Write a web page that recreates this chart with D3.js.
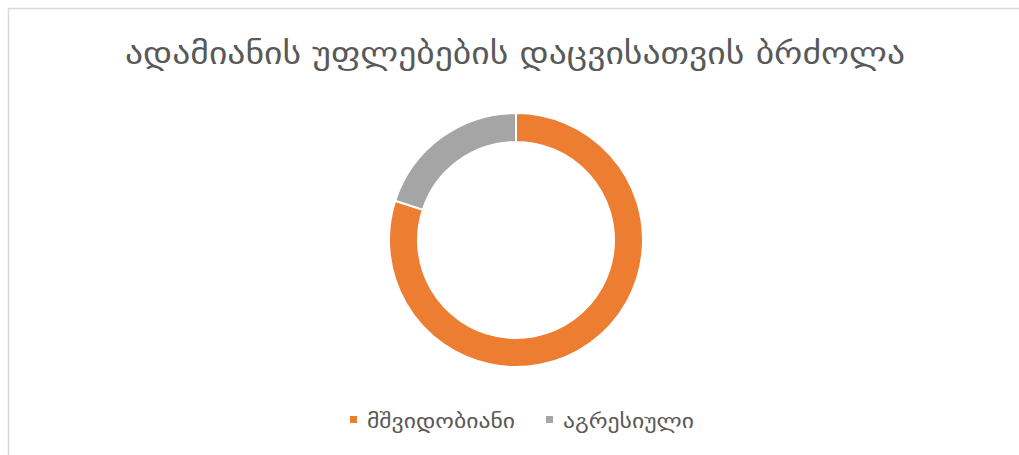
<!DOCTYPE html>
<html><head><meta charset="utf-8">
<script src="https://cdn.jsdelivr.net/npm/d3@7"></script>
<style>body{margin:0;background:#fff}svg{display:block}</style>
</head><body>
<script>
const title = "ადამიანის უფლებების დაცვისათვის ბრძოლა";
const categories = ["მშვიდობიანი", "აგრესიული"];
const values = [80, 20];
const colors = ["#ED7D31", "#A5A5A5"];

const W = 1019, H = 455;
const svg = d3.select("body").append("svg").attr("width", W).attr("height", H);
svg.append("rect").attr("x", 8.5).attr("y", 8.5).attr("width", W + 10).attr("height", H + 10)
  .attr("fill", "#fff").attr("stroke", "#d9d9d9").attr("stroke-width", 1.5);

const font = "'DejaVu Sans', sans-serif";
svg.append("text").attr("x", 125).attr("y", 64)
  .attr("textLength", 780).attr("lengthAdjust", "spacingAndGlyphs")
  .attr("font-family", font).attr("font-size", 30).attr("fill", "#595959").text(title);

const pie = d3.pie().sort(null).value(d => d)(values);
const arc = d3.arc().innerRadius(98).outerRadius(127);
const g = svg.append("g").attr("transform", "translate(516,240)");
g.selectAll("path").data(pie).join("path").attr("d", arc)
  .attr("fill", (d, i) => colors[i]).attr("stroke", "#fff").attr("stroke-width", 2);

const legend = svg.append("g");
const lx = [350, 546];
const lw = [148, 131];
categories.forEach((c, i) => {
  legend.append("rect").attr("x", lx[i]).attr("y", 416).attr("width", 7).attr("height", 7).attr("fill", colors[i]);
  legend.append("text").attr("x", lx[i] + 17).attr("y", 428).attr("font-family", font)
    .attr("textLength", lw[i]).attr("lengthAdjust", "spacingAndGlyphs")
    .attr("font-size", 19).attr("fill", "#595959").text(c);
});
</script>
</body></html>
